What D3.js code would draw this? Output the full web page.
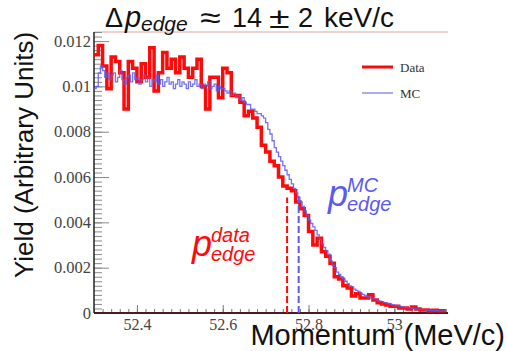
<!DOCTYPE html>
<html>
<head>
<meta charset="utf-8">
<script src="https://cdn.jsdelivr.net/npm/d3@7"></script>
<style>
	body { margin: 0; background: #fff; }
	svg { display: block; }
</style>
</head>
<body>
<svg id="chart" width="507" height="351"></svg>
<script>
// histogram contents, yield in units of 1e-3
const dataStart = 52.3;
const dataBinWidth = 0.01;
const dataYield = [
	11.4, 11.8, 10.9, 9.9, 11.3, 11.1, 10.6, 9.0, 11.1, 10.8,
	10.2, 11.0, 10.4, 11.7, 9.8, 10.6, 11.5, 10.8, 11.2, 10.6,
	11.3, 10.8, 10.4, 10.8, 11.2, 10.0, 9.0, 10.4, 10.4, 9.5,
	10.8, 10.6, 9.6, 9.6, 9.3, 8.7, 8.9, 8.6, 8.2, 7.4,
	7.1, 6.7, 6.5, 6.0, 5.6, 5.5, 5.4, 4.9, 4.6, 4.3,
	3.6, 3.0, 3.3, 2.7, 2.5, 2.2, 1.6, 1.5, 1.2, 1.1,
	0.75, 0.85, 0.66, 0.66, 0.8, 0.57, 0.45, 0.4, 0.35, 0.3,
	0.3, 0.22, 0.22, 0.18, 0.26, 0.18, 0.13, 0.13, 0.1, 0.12,
	0.1, 0.1
];

const mcStart = 52.3;
const mcBinWidth = 0.005;
const mcYield = [
	9.9, 10.0, 10.6, 10.9, 10.7, 10.4, 10.6, 10.3, 10.5, 10.6,
	10.2, 10.4, 10.7, 10.3, 10.1, 10.4, 10.5, 10.2, 10.6, 10.3,
	10.4, 10.1, 10.3, 10.5, 10.2, 10.4, 10.0, 10.3, 10.2, 10.5,
	10.1, 10.3, 10.0, 10.2, 10.4, 10.1, 10.2, 9.9, 10.1, 10.3,
	10.0, 10.2, 10.1, 9.9, 10.2, 10.0, 10.1, 10.3, 10.0, 10.1,
	9.9, 10.1, 10.0, 10.2, 9.9, 10.0, 10.1, 9.8, 10.0, 9.9,
	9.9, 9.8, 9.7, 9.8, 9.6, 9.7, 9.5, 9.6, 9.4, 9.5,
	9.3, 9.2, 9.2, 9.0, 9.0, 8.9, 8.8, 8.8, 8.7, 8.6,
	8.4, 8.1, 7.9, 7.6, 7.3, 7.1, 6.9, 6.7, 6.5, 6.3,
	6.1, 5.9, 5.7, 5.5, 5.3, 5.1, 4.9, 4.7, 4.5, 4.3,
	4.1, 3.95, 3.8, 3.65, 3.45, 3.25, 3.05, 2.9, 2.75, 2.6,
	2.3, 2.1, 2.0, 1.8, 1.7, 1.6, 1.5, 1.4, 1.3, 1.2,
	1.15, 1.05, 1.0, 0.95, 0.88, 0.82, 0.78, 0.72, 0.7, 0.66,
	0.62, 0.6, 0.55, 0.52, 0.5, 0.46, 0.44, 0.42, 0.38, 0.36,
	0.34, 0.32, 0.3, 0.28, 0.26, 0.25, 0.23, 0.22, 0.2, 0.19,
	0.18, 0.17, 0.16, 0.15, 0.14, 0.13, 0.12, 0.12, 0.11, 0.1,
	0.1, 0.09, 0.09, 0.08
];

// edge positions (MeV/c) and where the dashed markers stop (yield)
const edgeNames = ['data', 'MC'];
const edgeMomentum = [52.75, 52.777];
const edgeYield = [0.0051, 0.0053];

const xTickValues = [52.4, 52.6, 52.8, 53.0];
const xTickLabels = ['52.4', '52.6', '52.8', '53'];
const yTickValues = [0, 0.002, 0.004, 0.006, 0.008, 0.01, 0.012];
const yTickLabels = ['0', '0.002', '0.004', '0.006', '0.008', '0.01', '0.012'];

const RED = '#ff0a0a';
const BLUE = '#5a5af2';
const serif = '"Liberation Serif", "Times New Roman", serif';
const sans = '"Liberation Sans", Arial, Helvetica, sans-serif';

const plot = { left: 94, right: 448, top: 32, bottom: 313 };

const x = d3.scaleLinear().domain([52.3, 53.125]).range([plot.left, plot.right]);
const y = d3.scaleLinear().domain([0, 0.0124]).range([plot.bottom, plot.top]);

const svg = d3.select('#chart');

// histogram as step points
function histPoints(start, width, values) {
	const pts = values.map((v, i) => [start + i * width, v * 1e-3]);
	pts.push([start + values.length * width, values[values.length - 1] * 1e-3]);
	return pts;
}

const step = d3
	.line()
	.x((d) => x(d[0]))
	.y((d) => y(d[1]))
	.curve(d3.curveStepAfter);

// top frame
svg.append('line')
	.attr('x1', plot.left)
	.attr('x2', plot.right)
	.attr('y1', plot.top)
	.attr('y2', plot.top)
	.attr('stroke', '#d8a4a4')
	.attr('stroke-width', 1);

// Y axis: minor then major ticks (pointing inward)
const yMinor = d3.range(0, 0.01241, 0.0002);
const gyMinor = svg
	.append('g')
	.attr('transform', `translate(${plot.left},0)`)
	.call(d3.axisLeft(y).tickValues(yMinor).tickSizeInner(-8).tickSizeOuter(0).tickFormat(''));
gyMinor.selectAll('.tick line').attr('stroke', '#8a8a8a');
gyMinor.select('.domain').remove();

const gy = svg
	.append('g')
	.attr('transform', `translate(${plot.left},0)`)
	.call(
		d3
			.axisLeft(y)
			.tickValues(yTickValues)
			.tickSizeInner(-15)
			.tickSizeOuter(0)
			.tickPadding(3)
			.tickFormat((d, i) => yTickLabels[i])
	);
gy.select('.domain').remove();
gy.selectAll('.tick line').attr('stroke', '#8a8a8a');
gy.selectAll('.tick text').attr('font-family', serif).attr('font-size', 16.5).attr('fill', '#444');

// X axis
const xMinor = d3.range(52.3, 53.121, 0.02);
const gxMinor = svg
	.append('g')
	.attr('transform', `translate(0,${plot.bottom})`)
	.call(d3.axisBottom(x).tickValues(xMinor).tickSizeInner(-4).tickSizeOuter(0).tickFormat(''));
gxMinor.selectAll('.tick line').attr('stroke', '#777');
gxMinor.select('.domain').remove();

const gx = svg
	.append('g')
	.attr('transform', `translate(0,${plot.bottom})`)
	.call(
		d3
			.axisBottom(x)
			.tickValues(xTickValues)
			.tickSizeInner(-8)
			.tickSizeOuter(0)
			.tickPadding(6)
			.tickFormat((d, i) => xTickLabels[i])
	);
gx.select('.domain').remove();
gx.selectAll('.tick line').attr('stroke', '#777');
gx.selectAll('.tick text').attr('font-family', serif).attr('font-size', 16).attr('fill', '#444');

// axis lines
svg.append('line')
	.attr('x1', plot.left)
	.attr('x2', plot.left)
	.attr('y1', plot.top)
	.attr('y2', plot.bottom)
	.attr('stroke', '#222')
	.attr('stroke-width', 1.5);
svg.append('line')
	.attr('x1', plot.left)
	.attr('x2', plot.right)
	.attr('y1', plot.bottom)
	.attr('y2', plot.bottom)
	.attr('stroke', '#4a1d1d')
	.attr('stroke-width', 2);

// histograms
svg.append('path')
	.datum(histPoints(dataStart, dataBinWidth, dataYield))
	.attr('d', step)
	.attr('fill', 'none')
	.attr('stroke', RED)
	.attr('stroke-width', 3.5);

svg.append('path')
	.datum(histPoints(mcStart, mcBinWidth, mcYield))
	.attr('d', step)
	.attr('fill', 'none')
	.attr('stroke', BLUE)
	.attr('stroke-opacity', 0.85)
	.attr('stroke-width', 1.3);

// dashed edge markers
svg.selectAll('line.edge')
	.data(edgeNames)
	.join('line')
	.attr('class', 'edge')
	.attr('x1', (d, i) => x(edgeMomentum[i]))
	.attr('x2', (d, i) => x(edgeMomentum[i]))
	.attr('y1', y(0))
	.attr('y2', (d, i) => y(edgeYield[i]))
	.attr('stroke', (d, i) => (i === 0 ? RED : BLUE))
	.attr('stroke-width', 2)
	.attr('stroke-dasharray', '7,3');

// legend
const legend = svg.append('g').attr('font-family', serif).attr('font-size', 13).attr('fill', '#333');
legend.append('line').attr('x1', 362).attr('x2', 393).attr('y1', 67).attr('y2', 67).attr('stroke', RED).attr('stroke-width', 3);
legend.append('text').attr('x', 400).attr('y', 72).text('Data');
legend.append('line').attr('x1', 362).attr('x2', 393).attr('y1', 93).attr('y2', 93).attr('stroke', '#8080e0').attr('stroke-width', 1.3);
legend.append('text').attr('x', 400).attr('y', 98).text('MC');

// edge labels
function edgeLabel(px, py, sup, color) {
	const g = svg.append('g').attr('font-family', sans).attr('font-style', 'italic').attr('fill', color);
	g.append('text').attr('x', px).attr('y', py).attr('font-size', 36).text('p');
	g.append('text').attr('x', px + 19).attr('y', py - 14).attr('font-size', 20).text(sup);
	g.append('text').attr('x', px + 19).attr('y', py + 5).attr('font-size', 20).text('edge');
}
edgeLabel(192, 256, 'data', RED);
edgeLabel(328, 206, 'MC', BLUE);

// title, laid out with math-style spacing
const titleG = svg.append('g').attr('font-family', sans).attr('font-size', 27).attr('fill', '#111');
titleG.append('text').attr('x', 105).attr('y', 27).text('Δ');
titleG.append('text').attr('x', 125).attr('y', 27).attr('font-style', 'italic').attr('font-size', 29).text('p');
titleG.append('text').attr('x', 141).attr('y', 31).attr('font-style', 'italic').attr('font-size', 21).text('edge');
titleG.append('text').attr('transform', 'translate(200,28) scale(1.25,1)').attr('font-size', 30).text('≈');
titleG.append('text').attr('x', 232).attr('y', 27).text('14');
titleG.append('text').attr('transform', 'translate(269,28) scale(1.25,1)').attr('font-size', 30).text('±');
titleG.append('text').attr('x', 298).attr('y', 27).text('2');
titleG.append('text').attr('x', 324).attr('y', 27).attr('font-size', 28).text('keV/c');

// axis titles
svg.append('text')
	.attr('transform', 'translate(33,155) rotate(-90)')
	.attr('text-anchor', 'middle')
	.attr('font-family', sans)
	.attr('font-size', 26)
	.attr('fill', '#111')
	.text('Yield (Arbitrary Units)');

svg.append('text')
	.attr('x', 505)
	.attr('y', 345)
	.attr('text-anchor', 'end')
	.attr('font-family', sans)
	.attr('font-size', 29)
	.attr('fill', '#111')
	.text('Momentum (MeV/c)');
</script>
</body>
</html>
